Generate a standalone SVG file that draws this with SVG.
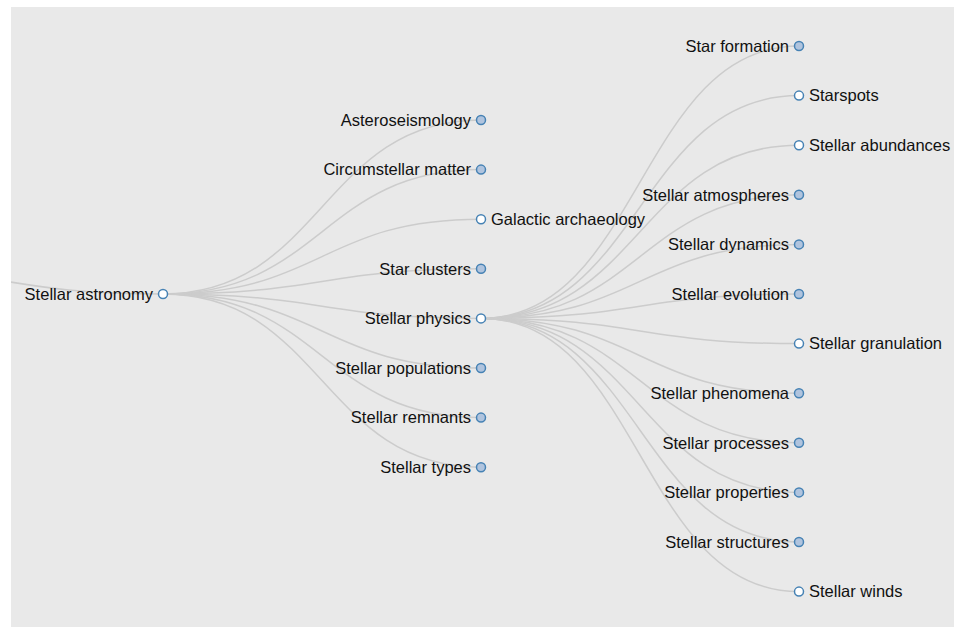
<svg xmlns="http://www.w3.org/2000/svg" width="955" height="627" viewBox="0 0 955 627">
<style>
.link{fill:none;stroke:#cccccc;stroke-width:1.5}
.node circle{stroke:#4682b4;stroke-width:1.5}
.c{fill:#b0c4de}
.o{fill:#ffffff}
text{font-family:"Liberation Sans",Arial,Helvetica,sans-serif;font-size:16.5px;fill:#111}
.l{text-anchor:end}
.r{text-anchor:start}
</style>
<defs>
<clipPath id="area"><rect x="11" y="7" width="943" height="620"/></clipPath>
</defs>
<rect x="11" y="7" width="943" height="620" fill="#e9e9e9"/>
<g id="links" clip-path="url(#area)">
<path class="link" d="M-155,268C4,268 4,294 163,294"/>
<path class="link" d="M163,294C322,294 322,120 481,120"/>
<path class="link" d="M163,294C322,294 322,169.6 481,169.6"/>
<path class="link" d="M163,294C322,294 322,219.2 481,219.2"/>
<path class="link" d="M163,294C322,294 322,268.8 481,268.8"/>
<path class="link" d="M163,294C322,294 322,318.4 481,318.4"/>
<path class="link" d="M163,294C322,294 322,368 481,368"/>
<path class="link" d="M163,294C322,294 322,417.6 481,417.6"/>
<path class="link" d="M163,294C322,294 322,467.2 481,467.2"/>
<path class="link" d="M481,318.4C640,318.4 640,46 799,46"/>
<path class="link" d="M481,318.4C640,318.4 640,95.6 799,95.6"/>
<path class="link" d="M481,318.4C640,318.4 640,145.2 799,145.2"/>
<path class="link" d="M481,318.4C640,318.4 640,194.8 799,194.8"/>
<path class="link" d="M481,318.4C640,318.4 640,244.4 799,244.4"/>
<path class="link" d="M481,318.4C640,318.4 640,294 799,294"/>
<path class="link" d="M481,318.4C640,318.4 640,343.6 799,343.6"/>
<path class="link" d="M481,318.4C640,318.4 640,393.2 799,393.2"/>
<path class="link" d="M481,318.4C640,318.4 640,442.8 799,442.8"/>
<path class="link" d="M481,318.4C640,318.4 640,492.4 799,492.4"/>
<path class="link" d="M481,318.4C640,318.4 640,542 799,542"/>
<path class="link" d="M481,318.4C640,318.4 640,591.6 799,591.6"/>
</g>
<g id="n-stellar-astronomy" class="node" transform="translate(163,294)"><circle r="4.5" class="o"/><text class="l" x="-10" dy="0.35em">Stellar astronomy</text></g>
<g id="n-asteroseismology" class="node" transform="translate(481,120)"><circle r="4.5" class="c"/><text class="l" x="-10" dy="0.35em">Asteroseismology</text></g>
<g id="n-circumstellar-matter" class="node" transform="translate(481,169.6)"><circle r="4.5" class="c"/><text class="l" x="-10" dy="0.35em">Circumstellar matter</text></g>
<g id="n-galactic-archaeology" class="node" transform="translate(481,219.2)"><circle r="4.5" class="o"/><text class="r" x="10" dy="0.35em">Galactic archaeology</text></g>
<g id="n-star-clusters" class="node" transform="translate(481,268.8)"><circle r="4.5" class="c"/><text class="l" x="-10" dy="0.35em">Star clusters</text></g>
<g id="n-stellar-physics" class="node" transform="translate(481,318.4)"><circle r="4.5" class="o"/><text class="l" x="-10" dy="0.35em">Stellar physics</text></g>
<g id="n-stellar-populations" class="node" transform="translate(481,368)"><circle r="4.5" class="c"/><text class="l" x="-10" dy="0.35em">Stellar populations</text></g>
<g id="n-stellar-remnants" class="node" transform="translate(481,417.6)"><circle r="4.5" class="c"/><text class="l" x="-10" dy="0.35em">Stellar remnants</text></g>
<g id="n-stellar-types" class="node" transform="translate(481,467.2)"><circle r="4.5" class="c"/><text class="l" x="-10" dy="0.35em">Stellar types</text></g>
<g id="n-star-formation" class="node" transform="translate(799,46)"><circle r="4.5" class="c"/><text class="l" x="-10" dy="0.35em">Star formation</text></g>
<g id="n-starspots" class="node" transform="translate(799,95.6)"><circle r="4.5" class="o"/><text class="r" x="10" dy="0.35em">Starspots</text></g>
<g id="n-stellar-abundances" class="node" transform="translate(799,145.2)"><circle r="4.5" class="o"/><text class="r" x="10" dy="0.35em">Stellar abundances</text></g>
<g id="n-stellar-atmospheres" class="node" transform="translate(799,194.8)"><circle r="4.5" class="c"/><text class="l" x="-10" dy="0.35em">Stellar atmospheres</text></g>
<g id="n-stellar-dynamics" class="node" transform="translate(799,244.4)"><circle r="4.5" class="c"/><text class="l" x="-10" dy="0.35em">Stellar dynamics</text></g>
<g id="n-stellar-evolution" class="node" transform="translate(799,294)"><circle r="4.5" class="c"/><text class="l" x="-10" dy="0.35em">Stellar evolution</text></g>
<g id="n-stellar-granulation" class="node" transform="translate(799,343.6)"><circle r="4.5" class="o"/><text class="r" x="10" dy="0.35em">Stellar granulation</text></g>
<g id="n-stellar-phenomena" class="node" transform="translate(799,393.2)"><circle r="4.5" class="c"/><text class="l" x="-10" dy="0.35em">Stellar phenomena</text></g>
<g id="n-stellar-processes" class="node" transform="translate(799,442.8)"><circle r="4.5" class="c"/><text class="l" x="-10" dy="0.35em">Stellar processes</text></g>
<g id="n-stellar-properties" class="node" transform="translate(799,492.4)"><circle r="4.5" class="c"/><text class="l" x="-10" dy="0.35em">Stellar properties</text></g>
<g id="n-stellar-structures" class="node" transform="translate(799,542)"><circle r="4.5" class="c"/><text class="l" x="-10" dy="0.35em">Stellar structures</text></g>
<g id="n-stellar-winds" class="node" transform="translate(799,591.6)"><circle r="4.5" class="o"/><text class="r" x="10" dy="0.35em">Stellar winds</text></g>
</svg>
